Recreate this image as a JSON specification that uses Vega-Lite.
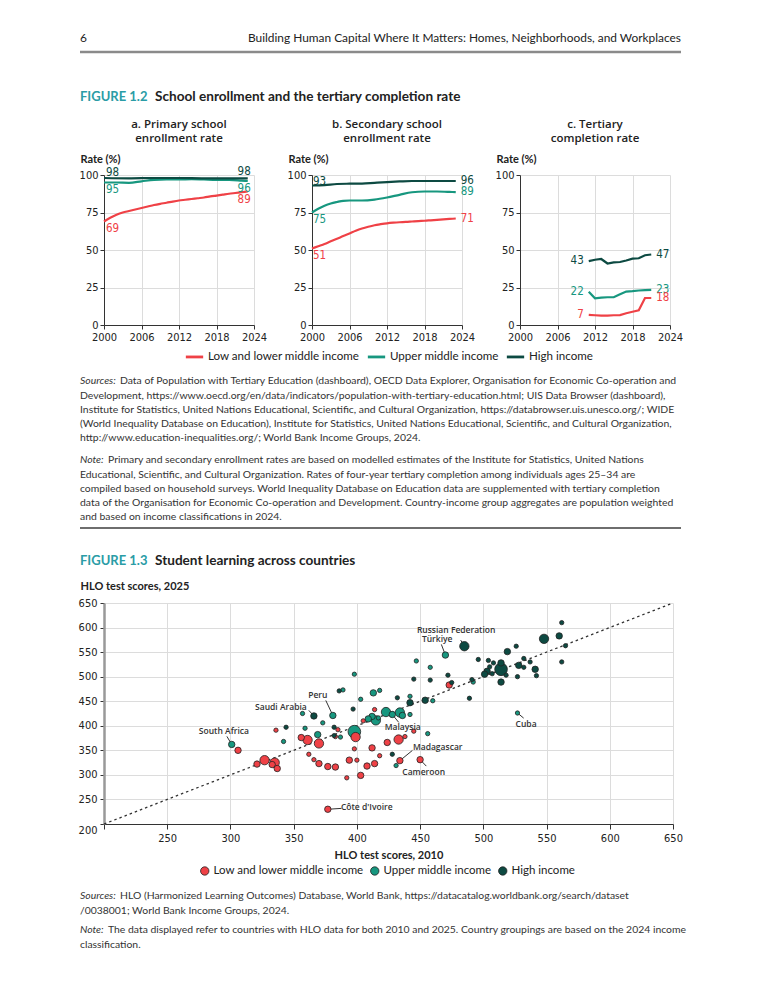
{
  "$schema": "https://vega.github.io/schema/vega-lite/v6.json",
  "background": "white",
  "padding": {"left": 72, "top": 0, "right": 0, "bottom": 0},
  "bounds": "flush",
  "spacing": 0,
  "resolve": {"scale": {"color": "independent"}, "legend": {"color": "independent"}},
  "config": {
    "view": {"stroke": null},
    "font": "Lato",
    "text": {"font": "Lato", "color": "#333"},
    "axis": {"labelFont": "DejaVu Sans Condensed, Lato", "labelFontSize": 11, "labelColor": "#222", "domainColor": "#333", "tickColor": "#333", "gridColor": "#dcdcdc", "titleFont": "Lato", "titleFontSize": 11, "titleFontWeight": "bold", "titleColor": "#222", "labelFlush": false, "labelOverlap": false},
    "legend": {"labelFont": "Lato", "labelFontSize": 11.6, "labelColor": "#222"}
  },
  "datasets": {
    "lines": [
      {"p":"a","g":"Low and lower middle income","year":2000,"rate":69},
      {"p":"a","g":"Low and lower middle income","year":2001,"rate":71.5},
      {"p":"a","g":"Low and lower middle income","year":2002,"rate":73.5},
      {"p":"a","g":"Low and lower middle income","year":2003,"rate":75},
      {"p":"a","g":"Low and lower middle income","year":2004,"rate":76},
      {"p":"a","g":"Low and lower middle income","year":2005,"rate":77},
      {"p":"a","g":"Low and lower middle income","year":2006,"rate":78},
      {"p":"a","g":"Low and lower middle income","year":2007,"rate":79},
      {"p":"a","g":"Low and lower middle income","year":2008,"rate":80},
      {"p":"a","g":"Low and lower middle income","year":2009,"rate":80.8},
      {"p":"a","g":"Low and lower middle income","year":2010,"rate":81.5},
      {"p":"a","g":"Low and lower middle income","year":2011,"rate":82.3},
      {"p":"a","g":"Low and lower middle income","year":2012,"rate":83},
      {"p":"a","g":"Low and lower middle income","year":2013,"rate":83.5},
      {"p":"a","g":"Low and lower middle income","year":2014,"rate":84},
      {"p":"a","g":"Low and lower middle income","year":2015,"rate":84.5},
      {"p":"a","g":"Low and lower middle income","year":2016,"rate":85},
      {"p":"a","g":"Low and lower middle income","year":2017,"rate":85.7},
      {"p":"a","g":"Low and lower middle income","year":2018,"rate":86.3},
      {"p":"a","g":"Low and lower middle income","year":2019,"rate":86.9},
      {"p":"a","g":"Low and lower middle income","year":2020,"rate":87.5},
      {"p":"a","g":"Low and lower middle income","year":2021,"rate":88},
      {"p":"a","g":"Low and lower middle income","year":2022,"rate":88.5},
      {"p":"a","g":"Low and lower middle income","year":2023,"rate":89},
      {"p":"a","g":"Upper middle income","year":2000,"rate":95},
      {"p":"a","g":"Upper middle income","year":2002,"rate":95},
      {"p":"a","g":"Upper middle income","year":2004,"rate":94.8},
      {"p":"a","g":"Upper middle income","year":2006,"rate":95.8},
      {"p":"a","g":"Upper middle income","year":2008,"rate":96.8},
      {"p":"a","g":"Upper middle income","year":2010,"rate":97},
      {"p":"a","g":"Upper middle income","year":2012,"rate":97},
      {"p":"a","g":"Upper middle income","year":2014,"rate":97.2},
      {"p":"a","g":"Upper middle income","year":2016,"rate":97},
      {"p":"a","g":"Upper middle income","year":2018,"rate":96.8},
      {"p":"a","g":"Upper middle income","year":2020,"rate":96.8},
      {"p":"a","g":"Upper middle income","year":2022,"rate":96.3},
      {"p":"a","g":"Upper middle income","year":2023,"rate":96},
      {"p":"a","g":"High income","year":2000,"rate":98},
      {"p":"a","g":"High income","year":2004,"rate":97.8},
      {"p":"a","g":"High income","year":2008,"rate":98},
      {"p":"a","g":"High income","year":2012,"rate":98},
      {"p":"a","g":"High income","year":2016,"rate":97.8},
      {"p":"a","g":"High income","year":2020,"rate":97.8},
      {"p":"a","g":"High income","year":2023,"rate":97.7},
      {"p":"b","g":"High income","year":2000,"rate":93},
      {"p":"b","g":"High income","year":2002,"rate":93.3},
      {"p":"b","g":"High income","year":2004,"rate":94},
      {"p":"b","g":"High income","year":2006,"rate":94.2},
      {"p":"b","g":"High income","year":2008,"rate":94.3},
      {"p":"b","g":"High income","year":2010,"rate":94.8},
      {"p":"b","g":"High income","year":2012,"rate":95.3},
      {"p":"b","g":"High income","year":2014,"rate":95.7},
      {"p":"b","g":"High income","year":2016,"rate":96},
      {"p":"b","g":"High income","year":2018,"rate":96},
      {"p":"b","g":"High income","year":2020,"rate":96},
      {"p":"b","g":"High income","year":2023,"rate":96},
      {"p":"b","g":"Upper middle income","year":2000,"rate":75},
      {"p":"b","g":"Upper middle income","year":2001,"rate":77.5},
      {"p":"b","g":"Upper middle income","year":2002,"rate":79.5},
      {"p":"b","g":"Upper middle income","year":2003,"rate":81},
      {"p":"b","g":"Upper middle income","year":2004,"rate":82},
      {"p":"b","g":"Upper middle income","year":2005,"rate":82.8},
      {"p":"b","g":"Upper middle income","year":2006,"rate":83},
      {"p":"b","g":"Upper middle income","year":2008,"rate":83},
      {"p":"b","g":"Upper middle income","year":2010,"rate":83.6},
      {"p":"b","g":"Upper middle income","year":2012,"rate":85},
      {"p":"b","g":"Upper middle income","year":2014,"rate":86.8},
      {"p":"b","g":"Upper middle income","year":2016,"rate":88.5},
      {"p":"b","g":"Upper middle income","year":2018,"rate":89},
      {"p":"b","g":"Upper middle income","year":2020,"rate":89},
      {"p":"b","g":"Upper middle income","year":2022,"rate":88.7},
      {"p":"b","g":"Upper middle income","year":2023,"rate":88.6},
      {"p":"b","g":"Low and lower middle income","year":2000,"rate":51},
      {"p":"b","g":"Low and lower middle income","year":2001,"rate":52.5},
      {"p":"b","g":"Low and lower middle income","year":2002,"rate":54},
      {"p":"b","g":"Low and lower middle income","year":2003,"rate":55.8},
      {"p":"b","g":"Low and lower middle income","year":2004,"rate":57.5},
      {"p":"b","g":"Low and lower middle income","year":2005,"rate":59.3},
      {"p":"b","g":"Low and lower middle income","year":2006,"rate":61},
      {"p":"b","g":"Low and lower middle income","year":2007,"rate":62.8},
      {"p":"b","g":"Low and lower middle income","year":2008,"rate":64.3},
      {"p":"b","g":"Low and lower middle income","year":2009,"rate":65.5},
      {"p":"b","g":"Low and lower middle income","year":2010,"rate":66.5},
      {"p":"b","g":"Low and lower middle income","year":2011,"rate":67.2},
      {"p":"b","g":"Low and lower middle income","year":2012,"rate":67.8},
      {"p":"b","g":"Low and lower middle income","year":2013,"rate":68.2},
      {"p":"b","g":"Low and lower middle income","year":2014,"rate":68.5},
      {"p":"b","g":"Low and lower middle income","year":2015,"rate":68.7},
      {"p":"b","g":"Low and lower middle income","year":2016,"rate":69},
      {"p":"b","g":"Low and lower middle income","year":2017,"rate":69.3},
      {"p":"b","g":"Low and lower middle income","year":2018,"rate":69.5},
      {"p":"b","g":"Low and lower middle income","year":2019,"rate":69.8},
      {"p":"b","g":"Low and lower middle income","year":2020,"rate":70.1},
      {"p":"b","g":"Low and lower middle income","year":2021,"rate":70.4},
      {"p":"b","g":"Low and lower middle income","year":2022,"rate":70.7},
      {"p":"b","g":"Low and lower middle income","year":2023,"rate":71},
      {"p":"c","g":"High income","year":2011,"rate":42.6},
      {"p":"c","g":"High income","year":2012,"rate":43.5},
      {"p":"c","g":"High income","year":2013,"rate":44},
      {"p":"c","g":"High income","year":2014,"rate":41},
      {"p":"c","g":"High income","year":2015,"rate":41.7},
      {"p":"c","g":"High income","year":2016,"rate":42},
      {"p":"c","g":"High income","year":2017,"rate":43},
      {"p":"c","g":"High income","year":2018,"rate":44.2},
      {"p":"c","g":"High income","year":2019,"rate":44.5},
      {"p":"c","g":"High income","year":2020,"rate":46.5},
      {"p":"c","g":"High income","year":2021,"rate":47},
      {"p":"c","g":"Upper middle income","year":2011,"rate":22.2},
      {"p":"c","g":"Upper middle income","year":2012,"rate":17.8},
      {"p":"c","g":"Upper middle income","year":2013,"rate":18.3},
      {"p":"c","g":"Upper middle income","year":2014,"rate":18.5},
      {"p":"c","g":"Upper middle income","year":2015,"rate":18.5},
      {"p":"c","g":"Upper middle income","year":2016,"rate":20.5},
      {"p":"c","g":"Upper middle income","year":2017,"rate":22.3},
      {"p":"c","g":"Upper middle income","year":2018,"rate":22.6},
      {"p":"c","g":"Upper middle income","year":2019,"rate":23},
      {"p":"c","g":"Upper middle income","year":2020,"rate":23.2},
      {"p":"c","g":"Upper middle income","year":2021,"rate":23.4},
      {"p":"c","g":"Low and lower middle income","year":2011,"rate":6.8},
      {"p":"c","g":"Low and lower middle income","year":2012,"rate":6.5},
      {"p":"c","g":"Low and lower middle income","year":2013,"rate":6.2},
      {"p":"c","g":"Low and lower middle income","year":2014,"rate":6.2},
      {"p":"c","g":"Low and lower middle income","year":2015,"rate":6.5},
      {"p":"c","g":"Low and lower middle income","year":2016,"rate":6.6},
      {"p":"c","g":"Low and lower middle income","year":2017,"rate":7.8},
      {"p":"c","g":"Low and lower middle income","year":2018,"rate":8.8},
      {"p":"c","g":"Low and lower middle income","year":2019,"rate":9.8},
      {"p":"c","g":"Low and lower middle income","year":2020,"rate":18},
      {"p":"c","g":"Low and lower middle income","year":2021,"rate":18}
    ],
    "pts": [
      {"x":306,"y":350,"g":"Low and lower middle income","pop":30},
      {"x":336,"y":391,"g":"Low and lower middle income","pop":5},
      {"x":321,"y":322,"g":"Low and lower middle income","pop":30},
      {"x":327,"y":330,"g":"Low and lower middle income","pop":80},
      {"x":333,"y":321,"g":"Low and lower middle income","pop":30},
      {"x":335,"y":325,"g":"Low and lower middle income","pop":80},
      {"x":337,"y":313,"g":"Low and lower middle income","pop":30},
      {"x":356,"y":376,"g":"Low and lower middle income","pop":30},
      {"x":361,"y":371,"g":"Low and lower middle income","pop":80},
      {"x":370,"y":364,"g":"Low and lower middle income","pop":80},
      {"x":362,"y":342,"g":"Low and lower middle income","pop":5},
      {"x":366,"y":331,"g":"Low and lower middle income","pop":5},
      {"x":370,"y":323,"g":"Low and lower middle income","pop":30},
      {"x":377,"y":317,"g":"Low and lower middle income","pop":30},
      {"x":383,"y":316,"g":"Low and lower middle income","pop":30},
      {"x":385,"y":392,"g":"Low and lower middle income","pop":5},
      {"x":383,"y":378,"g":"Low and lower middle income","pop":5},
      {"x":377,"y":230,"g":"Low and lower middle income","pop":30},
      {"x":473,"y":483,"g":"Low and lower middle income","pop":30},
      {"x":414,"y":433,"g":"Low and lower middle income","pop":5},
      {"x":405,"y":410,"g":"Low and lower middle income","pop":5},
      {"x":399,"y":377,"g":"Low and lower middle income","pop":80},
      {"x":445,"y":389,"g":"Low and lower middle income","pop":5},
      {"x":433,"y":372,"g":"Low and lower middle income","pop":80},
      {"x":438,"y":378,"g":"Low and lower middle income","pop":5},
      {"x":424,"y":366,"g":"Low and lower middle income","pop":30},
      {"x":398,"y":353,"g":"Low and lower middle income","pop":5},
      {"x":412,"y":355,"g":"Low and lower middle income","pop":30},
      {"x":418,"y":339,"g":"Low and lower middle income","pop":5},
      {"x":434,"y":329,"g":"Low and lower middle income","pop":30},
      {"x":450,"y":331,"g":"Low and lower middle income","pop":30},
      {"x":394,"y":330,"g":"Low and lower middle income","pop":30},
      {"x":400,"y":330,"g":"Low and lower middle income","pop":5},
      {"x":408,"y":318,"g":"Low and lower middle income","pop":30},
      {"x":414,"y":323,"g":"Low and lower middle income","pop":30},
      {"x":392,"y":294,"g":"Low and lower middle income","pop":5},
      {"x":403,"y":299,"g":"Low and lower middle income","pop":30},
      {"x":301,"y":362,"g":"Upper middle income","pop":30},
      {"x":342,"y":368,"g":"Upper middle income","pop":5},
      {"x":357,"y":425,"g":"Upper middle income","pop":5},
      {"x":381,"y":421,"g":"Upper middle income","pop":30},
      {"x":373,"y":406,"g":"Upper middle income","pop":5},
      {"x":359,"y":395,"g":"Upper middle income","pop":5},
      {"x":369,"y":382,"g":"Upper middle income","pop":30},
      {"x":387,"y":377,"g":"Upper middle income","pop":5},
      {"x":389,"y":473,"g":"Upper middle income","pop":5},
      {"x":470,"y":544,"g":"Upper middle income","pop":30},
      {"x":447,"y":532,"g":"Upper middle income","pop":5},
      {"x":458,"y":519,"g":"Upper middle income","pop":5},
      {"x":398,"y":505,"g":"Upper middle income","pop":5},
      {"x":413,"y":467,"g":"Upper middle income","pop":30},
      {"x":418,"y":472,"g":"Upper middle income","pop":5},
      {"x":403,"y":454,"g":"Upper middle income","pop":5},
      {"x":442,"y":460,"g":"Upper middle income","pop":5},
      {"x":460,"y":451,"g":"Upper middle income","pop":5},
      {"x":423,"y":428,"g":"Upper middle income","pop":80},
      {"x":428,"y":423,"g":"Upper middle income","pop":30},
      {"x":434,"y":427,"g":"Upper middle income","pop":80},
      {"x":436,"y":421,"g":"Upper middle income","pop":30},
      {"x":442,"y":423,"g":"Upper middle income","pop":5},
      {"x":412,"y":419,"g":"Upper middle income","pop":30},
      {"x":415,"y":411,"g":"Upper middle income","pop":80},
      {"x":417,"y":416,"g":"Upper middle income","pop":5},
      {"x":409,"y":414,"g":"Upper middle income","pop":30},
      {"x":398,"y":388,"g":"Upper middle income","pop":160},
      {"x":456,"y":384,"g":"Upper middle income","pop":5},
      {"x":431,"y":319,"g":"Upper middle income","pop":5},
      {"x":492,"y":489,"g":"Upper middle income","pop":5},
      {"x":527,"y":426,"g":"Upper middle income","pop":5},
      {"x":344,"y":397,"g":"High income","pop":5},
      {"x":366,"y":420,"g":"High income","pop":30},
      {"x":382,"y":397,"g":"High income","pop":5},
      {"x":382,"y":380,"g":"High income","pop":5},
      {"x":386,"y":471,"g":"High income","pop":5},
      {"x":472,"y":503,"g":"High income","pop":5},
      {"x":445,"y":495,"g":"High income","pop":5},
      {"x":458,"y":493,"g":"High income","pop":5},
      {"x":432,"y":457,"g":"High income","pop":5},
      {"x":442,"y":447,"g":"High income","pop":30},
      {"x":454,"y":452,"g":"High income","pop":30},
      {"x":397,"y":434,"g":"High income","pop":5},
      {"x":428,"y":342,"g":"High income","pop":5},
      {"x":485,"y":562,"g":"High income","pop":80},
      {"x":562,"y":610,"g":"High income","pop":5},
      {"x":548,"y":577,"g":"High income","pop":80},
      {"x":560,"y":583,"g":"High income","pop":30},
      {"x":565,"y":563,"g":"High income","pop":5},
      {"x":526,"y":562,"g":"High income","pop":5},
      {"x":519,"y":551,"g":"High income","pop":30},
      {"x":532,"y":537,"g":"High income","pop":5},
      {"x":496,"y":535,"g":"High income","pop":5},
      {"x":504,"y":533,"g":"High income","pop":5},
      {"x":508,"y":528,"g":"High income","pop":5},
      {"x":537,"y":530,"g":"High income","pop":5},
      {"x":528,"y":523,"g":"High income","pop":30},
      {"x":514,"y":528,"g":"High income","pop":30},
      {"x":514,"y":515,"g":"High income","pop":160},
      {"x":532,"y":519,"g":"High income","pop":5},
      {"x":541,"y":515,"g":"High income","pop":30},
      {"x":562,"y":530,"g":"High income","pop":5},
      {"x":505,"y":520,"g":"High income","pop":5},
      {"x":503,"y":511,"g":"High income","pop":30},
      {"x":501,"y":505,"g":"High income","pop":30},
      {"x":507,"y":506,"g":"High income","pop":5},
      {"x":518,"y":503,"g":"High income","pop":5},
      {"x":527,"y":500,"g":"High income","pop":5},
      {"x":542,"y":502,"g":"High income","pop":5},
      {"x":514,"y":489,"g":"High income","pop":30},
      {"x":491,"y":494,"g":"High income","pop":5},
      {"x":475,"y":488,"g":"High income","pop":5},
      {"x":489,"y":456,"g":"High income","pop":5}
    ],
    "ann": [
      {"label":"South Africa","x":301,"y":362,"ex":297.2,"ey":378.4,"lx":294.8,"ly":388.5},
      {"label":"Saudi Arabia","x":366,"y":420,"ex":362,"ey":431.3,"lx":339.9,"ly":437.4},
      {"label":"Peru","x":381,"y":421,"ex":375.4,"ey":451.6,"lx":369.1,"ly":461.8},
      {"label":"Malaysia","x":428,"y":423,"ex":433.1,"ey":406.9,"lx":436.2,"ly":396.7},
      {"label":"Madagascar","x":434,"y":329,"ex":443.9,"ey":349.8,"lx":463.9,"ly":356},
      {"label":"Cameroon","x":450,"y":331,"ex":454.9,"ey":317.9,"lx":452.8,"ly":305.1},
      {"label":"Côte d'Ivoire","x":377,"y":230,"ex":387.8,"ey":231.8,"lx":407.8,"ly":233.8},
      {"label":"Russian Federation","x":485,"y":562,"ex":482.1,"ey":574.4,"lx":478.5,"ly":595.2},
      {"label":"Türkiye","x":470,"y":544,"ex":466.8,"ey":565.7,"lx":463.5,"ly":575.8},
      {"label":"Cuba","x":527,"y":426,"ex":531.9,"ey":415.6,"lx":533.8,"ly":403.8}
    ]
  },
  "vconcat": [
    {
      "width": 577, "height": 175,
      "layer": [
        {"data": {"values": [{"t": "anchor"}]}, "mark": {"type": "rule", "opacity": 0}, "encoding": {"x": {"value": -32}, "x2": {"value": -31}, "y": {"value": 10}}},
        {"data": {"values": [{"t": "6"}]}, "mark": {"type": "text", "align": "left", "baseline": "middle", "fontSize": 11.9, "color": "#222"}, "encoding": {"text": {"field": "t"}, "x": {"value": -24}, "y": {"value": 38}}},
        {"data": {"values": [{"t": "Building Human Capital Where It Matters: Homes, Neighborhoods, and Workplaces"}]}, "mark": {"type": "text", "align": "right", "baseline": "middle", "fontSize": 11.9, "color": "#222"}, "encoding": {"text": {"field": "t"}, "x": {"value": 577}, "y": {"value": 38}}},
        {"data": {"values": [{"t": "rule"}]}, "mark": {"type": "rule", "color": "#8a8a8a", "strokeWidth": 2.5}, "encoding": {"x": {"value": -24}, "x2": {"value": 577}, "y": {"value": 52}}},
        {"data": {"values": [{"t": "FIGURE 1.2"}]}, "mark": {"type": "text", "align": "left", "baseline": "middle", "fontSize": 13, "fontWeight": "bold", "color": "#2a9ca6"}, "encoding": {"text": {"field": "t"}, "x": {"value": -24}, "y": {"value": 97}}},
        {"data": {"values": [{"t": "School enrollment and the tertiary completion rate"}]}, "mark": {"type": "text", "align": "left", "baseline": "middle", "fontSize": 13.6, "fontWeight": "bold", "color": "#222"}, "encoding": {"text": {"field": "t"}, "x": {"value": 51}, "y": {"value": 97}}}
      ]
    },
    {
      "bounds": "flush",
      "spacing": 58,
      "resolve": {"scale": {"color": "shared"}, "legend": {"color": "shared"}},
      "hconcat": [
        {
          "width": 150, "height": 150,
          "title": {"text": ["a. Primary school", "enrollment rate"], "font": "Open Sans", "fontSize": 11.5, "fontWeight": 600, "color": "#222", "lineHeight": 14, "anchor": "middle", "baseline": "alphabetic", "offset": 0},
          "data": {"name": "lines"},
          "transform": [{"filter": "datum.p == 'a'"}],
          "encoding": {
            "x": {"field": "year", "type": "quantitative", "scale": {"domain": [2000, 2024]}, "axis": {"values": [2000, 2006, 2012, 2018, 2024], "format": "d", "title": null, "tickSize": 4, "labelPadding": 2}},
            "y": {"field": "rate", "type": "quantitative", "scale": {"domain": [0, 100]}, "axis": {"values": [0, 25, 50, 75, 100], "title": "Rate (%)", "titleAngle": 0, "titleAlign": "left", "titleBaseline": "middle", "titleX": -24, "titleY": -16, "tickSize": 4, "labelPadding": 2}},
            "color": {"field": "g", "type": "nominal", "scale": {"domain": ["Low and lower middle income", "Upper middle income", "High income"], "range": ["#ef4146", "#17977f", "#0d4a42"]}, "legend": {"orient": "none", "legendX": 80, "legendY": 171, "direction": "horizontal", "title": null, "symbolType": "stroke", "symbolStrokeWidth": 2.8, "symbolSize": 300, "columnPadding": 2, "labelOffset": 3}}
          },
          "layer": [
            {"mark": {"type": "line", "strokeWidth": 2.2, "interpolate": "monotone"}},
            {"transform": [{"filter": "datum.year == 2000 && datum.g == 'High income'"}], "mark": {"type": "text", "align": "left", "baseline": "middle", "dx": 2, "dy": -5, "font": "DejaVu Sans Condensed, Lato", "fontSize": 11.5}, "encoding": {"text": {"field": "rate", "format": ".0f"}}},
            {"transform": [{"filter": "datum.year == 2000 && datum.g != 'High income'"}], "mark": {"type": "text", "align": "left", "baseline": "middle", "dx": 2, "dy": 7, "font": "DejaVu Sans Condensed, Lato", "fontSize": 11.5}, "encoding": {"text": {"field": "rate", "format": ".0f"}}},
            {"transform": [{"filter": "datum.year == 2023 && datum.g == 'High income'"}], "mark": {"type": "text", "align": "right", "baseline": "middle", "dx": 3, "dy": -6, "font": "DejaVu Sans Condensed, Lato", "fontSize": 11.5}, "encoding": {"text": {"field": "rate", "format": ".0f"}}},
            {"transform": [{"filter": "datum.year == 2023 && datum.g != 'High income'"}], "mark": {"type": "text", "align": "right", "baseline": "middle", "dx": 3, "dy": 8, "font": "DejaVu Sans Condensed, Lato", "fontSize": 11.5}, "encoding": {"text": {"field": "rate", "format": ".0f"}}}
          ]
        },
        {
          "width": 150, "height": 150,
          "title": {"text": ["b. Secondary school", "enrollment rate"], "font": "Open Sans", "fontSize": 11.5, "fontWeight": 600, "color": "#222", "lineHeight": 14, "anchor": "middle", "baseline": "alphabetic", "offset": 0},
          "data": {"name": "lines"},
          "transform": [{"filter": "datum.p == 'b'"}],
          "encoding": {
            "x": {"field": "year", "type": "quantitative", "scale": {"domain": [2000, 2024]}, "axis": {"values": [2000, 2006, 2012, 2018, 2024], "format": "d", "title": null, "tickSize": 4, "labelPadding": 2}},
            "y": {"field": "rate", "type": "quantitative", "scale": {"domain": [0, 100]}, "axis": {"values": [0, 25, 50, 75, 100], "title": "Rate (%)", "titleAngle": 0, "titleAlign": "left", "titleBaseline": "middle", "titleX": -24, "titleY": -16, "tickSize": 4, "labelPadding": 2}},
            "color": {"field": "g", "type": "nominal", "scale": {"domain": ["Low and lower middle income", "Upper middle income", "High income"], "range": ["#ef4146", "#17977f", "#0d4a42"]}, "legend": {"orient": "none", "legendX": 80, "legendY": 171, "direction": "horizontal", "title": null, "symbolType": "stroke", "symbolStrokeWidth": 2.8, "symbolSize": 300, "columnPadding": 2, "labelOffset": 3}}
          },
          "layer": [
            {"mark": {"type": "line", "strokeWidth": 2.2, "interpolate": "monotone"}},
            {"transform": [{"filter": "datum.year == 2000 && datum.g == 'High income'"}], "mark": {"type": "text", "align": "left", "baseline": "middle", "dx": 1, "dy": -4, "font": "DejaVu Sans Condensed, Lato", "fontSize": 11.5}, "encoding": {"text": {"field": "rate", "format": ".0f"}}},
            {"transform": [{"filter": "datum.year == 2000 && datum.g != 'High income'"}], "mark": {"type": "text", "align": "left", "baseline": "middle", "dx": 1, "dy": 7, "font": "DejaVu Sans Condensed, Lato", "fontSize": 11.5}, "encoding": {"text": {"field": "rate", "format": ".0f"}}},
            {"transform": [{"filter": "datum.year == 2023"}], "mark": {"type": "text", "align": "left", "baseline": "middle", "dx": 5, "font": "DejaVu Sans Condensed, Lato", "fontSize": 11.5}, "encoding": {"text": {"field": "rate", "format": ".0f"}}}
          ]
        },
        {
          "width": 150, "height": 150,
          "title": {"text": ["c. Tertiary", "completion rate"], "font": "Open Sans", "fontSize": 11.5, "fontWeight": 600, "color": "#222", "lineHeight": 14, "anchor": "middle", "baseline": "alphabetic", "offset": 0},
          "data": {"name": "lines"},
          "transform": [{"filter": "datum.p == 'c'"}],
          "encoding": {
            "x": {"field": "year", "type": "quantitative", "scale": {"domain": [2000, 2024]}, "axis": {"values": [2000, 2006, 2012, 2018, 2024], "format": "d", "title": null, "tickSize": 4, "labelPadding": 2}},
            "y": {"field": "rate", "type": "quantitative", "scale": {"domain": [0, 100]}, "axis": {"values": [0, 25, 50, 75, 100], "title": "Rate (%)", "titleAngle": 0, "titleAlign": "left", "titleBaseline": "middle", "titleX": -24, "titleY": -16, "tickSize": 4, "labelPadding": 2}},
            "color": {"field": "g", "type": "nominal", "scale": {"domain": ["Low and lower middle income", "Upper middle income", "High income"], "range": ["#ef4146", "#17977f", "#0d4a42"]}, "legend": {"orient": "none", "legendX": 80, "legendY": 171, "direction": "horizontal", "title": null, "symbolType": "stroke", "symbolStrokeWidth": 2.8, "symbolSize": 300, "columnPadding": 2, "labelOffset": 3}}
          },
          "layer": [
            {"mark": {"type": "line", "strokeWidth": 2.2}},
            {"transform": [{"filter": "datum.year == 2011"}], "mark": {"type": "text", "align": "right", "baseline": "middle", "dx": -5, "font": "DejaVu Sans Condensed, Lato", "fontSize": 11.5}, "encoding": {"text": {"field": "rate", "format": ".0f"}}},
            {"transform": [{"filter": "datum.year == 2021"}], "mark": {"type": "text", "align": "left", "baseline": "middle", "dx": 5, "font": "DejaVu Sans Condensed, Lato", "fontSize": 11.5}, "encoding": {"text": {"field": "rate", "format": ".0f"}}}
          ]
        }
      ]
    },
    {
      "width": 577, "height": 428,
      "layer": [
        {"data": {"values": [{"t": "Sources:"}]}, "mark": {"type": "text", "align": "left", "baseline": "middle", "fontSize": 10.4, "fontStyle": "italic"}, "encoding": {"text": {"field": "t"}, "x": {"value": -24}, "y": {"value": 206}}},
        {"data": {"values": [{"t": "Data of Population with Tertiary Education (dashboard), OECD Data Explorer, Organisation for Economic Co-operation and"}]}, "mark": {"type": "text", "align": "left", "baseline": "middle", "fontSize": 10.4}, "encoding": {"text": {"field": "t"}, "x": {"value": 16}, "y": {"value": 206}}},
        {"data": {"values": [{"t": "Development, https://www.oecd.org/en/data/indicators/population-with-tertiary-education.html; UIS Data Browser (dashboard),\nInstitute for Statistics, United Nations Educational, Scientific, and Cultural Organization, https://databrowser.uis.unesco.org/; WIDE\n(World Inequality Database on Education), Institute for Statistics, United Nations Educational, Scientific, and Cultural Organization,\nhttp://www.education-inequalities.org/; World Bank Income Groups, 2024."}]}, "mark": {"type": "text", "align": "left", "baseline": "middle", "fontSize": 10.4, "lineBreak": "\n", "lineHeight": 14.3}, "encoding": {"text": {"field": "t"}, "x": {"value": -24}, "y": {"value": 220.5}}},
        {"data": {"values": [{"t": "Note:"}]}, "mark": {"type": "text", "align": "left", "baseline": "middle", "fontSize": 10.4, "fontStyle": "italic"}, "encoding": {"text": {"field": "t"}, "x": {"value": -24}, "y": {"value": 285}}},
        {"data": {"values": [{"t": "Primary and secondary enrollment rates are based on modelled estimates of the Institute for Statistics, United Nations"}]}, "mark": {"type": "text", "align": "left", "baseline": "middle", "fontSize": 10.4}, "encoding": {"text": {"field": "t"}, "x": {"value": 4}, "y": {"value": 285}}},
        {"data": {"values": [{"t": "Educational, Scientific, and Cultural Organization. Rates of four-year tertiary completion among individuals ages 25–34 are\ncompiled based on household surveys. World Inequality Database on Education data are supplemented with tertiary completion\ndata of the Organisation for Economic Co-operation and Development. Country-income group aggregates are population weighted\nand based on income classifications in 2024."}]}, "mark": {"type": "text", "align": "left", "baseline": "middle", "fontSize": 10.4, "lineBreak": "\n", "lineHeight": 14.3}, "encoding": {"text": {"field": "t"}, "x": {"value": -24}, "y": {"value": 299.5}}},
        {"data": {"values": [{"t": "rule"}]}, "mark": {"type": "rule", "color": "#6e6e6e", "strokeWidth": 2}, "encoding": {"x": {"value": -24}, "x2": {"value": 577}, "y": {"value": 353}}},
        {"data": {"values": [{"t": "FIGURE 1.3"}]}, "mark": {"type": "text", "align": "left", "baseline": "middle", "fontSize": 13, "fontWeight": "bold", "color": "#2a9ca6"}, "encoding": {"text": {"field": "t"}, "x": {"value": -24}, "y": {"value": 386}}},
        {"data": {"values": [{"t": "Student learning across countries"}]}, "mark": {"type": "text", "align": "left", "baseline": "middle", "fontSize": 13.6, "fontWeight": "bold", "color": "#222"}, "encoding": {"text": {"field": "t"}, "x": {"value": 51}, "y": {"value": 386}}}
      ]
    },
    {
      "width": 569, "height": 221,
      "encoding": {
        "x": {"field": "x", "type": "quantitative", "title": "HLO test scores, 2010", "scale": {"domain": [200, 650]}, "axis": {"values": [200, 250, 300, 350, 400, 450, 500, 550, 600, 650], "labelExpr": "datum.value == 200 ? '' : datum.label", "title": "HLO test scores, 2010", "tickSize": 5, "labelPadding": 3, "titlePadding": 6}},
        "y": {"field": "y", "type": "quantitative", "title": "HLO test scores, 2025", "scale": {"domain": [200, 650]}, "axis": {"values": [200, 250, 300, 350, 400, 450, 500, 550, 600, 650], "title": "HLO test scores, 2025", "titleAngle": 0, "titleAlign": "left", "titleBaseline": "middle", "titleX": -24, "titleY": -17, "domainColor": "#999", "domainWidth": 2.5, "tickSize": 4, "labelPadding": 3, "labelBaseline": {"condition": {"test": "datum.value == 200", "value": "top"}, "value": "middle"}}}
      },
      "layer": [
        {"data": {"values": [{"x": 200, "y": 200}, {"x": 650, "y": 650}]}, "mark": {"type": "line", "color": "#333", "strokeWidth": 1.3, "strokeDash": [2.5, 3]}},
        {"data": {"name": "ann"}, "mark": {"type": "rule", "color": "#333", "strokeWidth": 1}, "encoding": {"x2": {"field": "ex"}, "y2": {"field": "ey"}}},
        {"data": {"name": "pts"}, "mark": {"type": "circle", "opacity": 1, "stroke": "#222", "strokeWidth": 0.8},
         "encoding": {
           "color": {"field": "g", "type": "nominal", "scale": {"domain": ["Low and lower middle income", "Upper middle income", "High income"], "range": ["#ef4146", "#17977f", "#0d4a42"]}, "legend": {"orient": "none", "legendX": 95, "legendY": 262, "direction": "horizontal", "title": null, "symbolType": "circle", "symbolSize": 70, "symbolStrokeColor": "#222", "symbolStrokeWidth": 0.8, "symbolOpacity": 1, "columnPadding": 4, "labelOffset": 3, "labelFontSize": 11.5}},
           "size": {"field": "pop", "type": "quantitative", "scale": {"domain": [0, 160], "range": [14, 160]}, "legend": null},
           "order": {"field": "pop", "sort": "descending"}
         }},
        {"data": {"name": "ann"}, "mark": {"type": "text", "font": "Open Sans", "fontSize": 8.5, "fontWeight": 600, "color": "#333", "baseline": "middle", "align": "center"}, "encoding": {"x": {"field": "lx", "type": "quantitative", "title": "HLO test scores, 2010"}, "y": {"field": "ly", "type": "quantitative", "title": "HLO test scores, 2025"}, "text": {"field": "label"}}}
      ]
    },
    {
      "width": 577, "height": 184,
      "layer": [
        {"data": {"values": [{"t": "Sources:"}]}, "mark": {"type": "text", "align": "left", "baseline": "middle", "fontSize": 10.4, "fontStyle": "italic"}, "encoding": {"text": {"field": "t"}, "x": {"value": -24}, "y": {"value": 72}}},
        {"data": {"values": [{"t": "HLO (Harmonized Learning Outcomes) Database, World Bank, https://datacatalog.worldbank.org/search/dataset"}]}, "mark": {"type": "text", "align": "left", "baseline": "middle", "fontSize": 10.4}, "encoding": {"text": {"field": "t"}, "x": {"value": 16}, "y": {"value": 72}}},
        {"data": {"values": [{"t": "/0038001; World Bank Income Groups, 2024."}]}, "mark": {"type": "text", "align": "left", "baseline": "middle", "fontSize": 10.4}, "encoding": {"text": {"field": "t"}, "x": {"value": -24}, "y": {"value": 87}}},
        {"data": {"values": [{"t": "Note:"}]}, "mark": {"type": "text", "align": "left", "baseline": "middle", "fontSize": 10.4, "fontStyle": "italic"}, "encoding": {"text": {"field": "t"}, "x": {"value": -24}, "y": {"value": 106}}},
        {"data": {"values": [{"t": "The data displayed refer to countries with HLO data for both 2010 and 2025. Country groupings are based on the 2024 income"}]}, "mark": {"type": "text", "align": "left", "baseline": "middle", "fontSize": 10.4}, "encoding": {"text": {"field": "t"}, "x": {"value": 4}, "y": {"value": 106}}},
        {"data": {"values": [{"t": "classification."}]}, "mark": {"type": "text", "align": "left", "baseline": "middle", "fontSize": 10.4}, "encoding": {"text": {"field": "t"}, "x": {"value": -24}, "y": {"value": 121}}}
      ]
    }
  ]
}
